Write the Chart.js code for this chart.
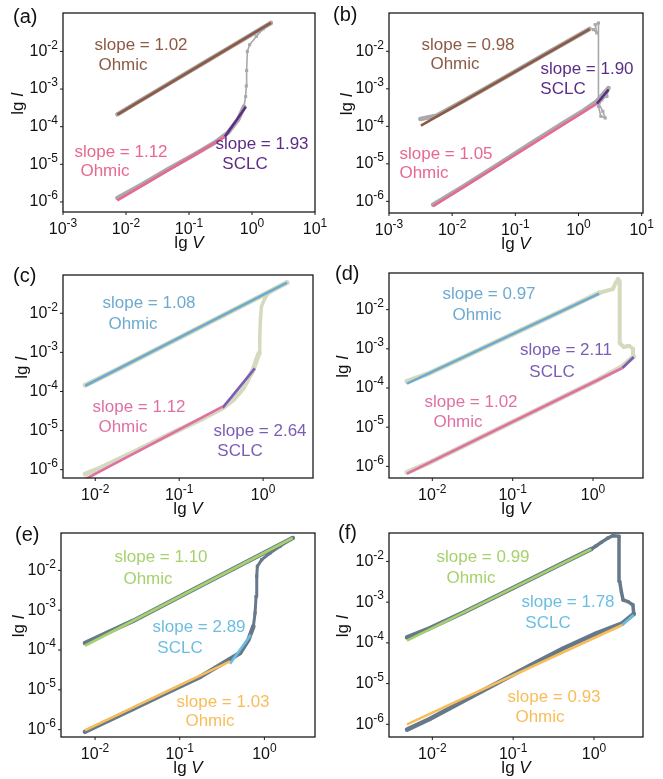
<!DOCTYPE html>
<html>
<head>
<meta charset="utf-8">
<script src="https://cdn.jsdelivr.net/npm/chart.js@4.4.1/dist/chart.umd.min.js"></script>
<style>
  body { margin: 0; background: #fff; }
  #fig { position: relative; width: 663px; height: 779px; }
  #fig canvas { position: absolute; }
</style>
</head>
<body>
<div id="fig"></div>
<script>
// I-V data, [V, I] pairs
// (a)
const aLow  = [[0.0073,1.28e-6],[0.0171,2.78e-6],[0.0457,7.3e-6],[0.122,1.83e-5],[0.254,3.74e-5],[0.414,6.9e-5],[0.598,1.51e-4],[0.745,3.41e-4]];
const aJump = [[0.745,3.41e-4],[0.792,6.3e-4],[0.812,1.21e-3],[0.822,3.11e-3],[0.843,0.010],[0.918,0.0151],[1.17,0.0251],[1.50,0.0394],[1.99,0.057]];
const aHigh = [[1.99,0.057],[0.528,0.0152],[0.155,4.5e-3],[0.0457,1.33e-3],[0.0171,5.0e-4],[0.0073,2.13e-4]];
const aFitHigh = [[0.0073,2.1e-4],[2.0,0.057]];
const aFitLow  = [[0.0073,1.1e-6],[0.37,5.4e-5]];
const aFitSclc = [[0.37,5.4e-5],[0.80,3.4e-4]];
// (b)
const bLow  = [[0.0050,8.2e-7],[0.0150,2.5e-6],[0.0506,9.1e-6],[0.171,3.4e-5],[0.578,1.23e-4],[1.20,2.62e-4],[1.95,4.64e-4],[2.99,1.05e-3]];
const bJump = [[2.99,1.05e-3],[2.82,6.3e-4],[2.34,5.1e-4],[2.07,3.41e-4],[2.26,1.85e-4],[2.65,1.67e-4],[2.43,2.51e-4],[2.07,4.19e-4],[2.07,0.057],[1.84,0.0514],[1.95,0.0308],[1.73,0.0379]];
const bHigh = [[1.50,0.0394],[0.314,8.85e-3],[0.0646,1.92e-3],[0.0150,4.74e-4],[0.00564,1.92e-4],[0.00314,1.57e-4]];
const bFitHigh = [[0.0032,1.05e-4],[1.50,0.039]];
const bFitLow  = [[0.0050,7.4e-7],[1.95,4.0e-4]];
const bFitSclc = [[1.95,4.0e-4],[3.0,9.5e-4]];
// (c)
const cLow  = [[0.0076,7.7e-7],[0.0115,1.1e-6],[0.0285,2.8e-6],[0.071,7.4e-6],[0.177,1.9e-5],[0.329,3.75e-5],[0.44,6.1e-5],[0.578,1.2e-4],[0.76,3.6e-4],[0.85,7.1e-4],[0.895,9.5e-4]];
const cJump = [[0.895,9.5e-4],[0.912,2.5e-3],[0.929,6.8e-3],[0.955,0.0148],[1.047,0.024],[1.146,0.032],[1.44,0.043],[1.93,0.061]];
const cHigh = [[1.93,0.061],[0.695,0.0197],[0.177,4.4e-3],[0.045,9.8e-4],[0.0181,3.6e-4],[0.0076,1.45e-4]];
const cFitHigh = [[0.0076,1.4e-4],[1.93,0.061]];
const cFitLow  = [[0.0076,5.7e-7],[0.329,4.1e-5]];
const cFitSclc = [[0.329,3.8e-5],[0.796,3.9e-4]];
// (d)
const dLow  = [[0.00484,7.0e-7],[0.00927,1.25e-6],[0.0241,3.27e-6],[0.0627,8.55e-6],[0.163,2.24e-5],[0.424,5.86e-5],[1.10,1.53e-4],[2.32,3.57e-4],[3.21,6.4e-4]];
const dJump = [[3.21,6.4e-4],[3.15,9.9e-4],[2.81,1.2e-3],[2.41,1.11e-3],[2.15,1.41e-3],[2.15,0.0528],[2.05,0.0607],[1.91,0.048],[1.77,0.0337],[1.54,0.0312],[1.19,0.0267]];
const dHigh = [[1.19,0.0267],[0.424,9.5e-3],[0.163,3.8e-3],[0.0627,1.51e-3],[0.0241,6.0e-4],[0.00927,2.41e-4],[0.00484,1.48e-4]];
const dFitHigh = [[0.00484,1.29e-4],[1.19,0.0256]];
const dFitLow  = [[0.00484,6.5e-7],[2.32,3.24e-4]];
const dFitSclc = [[2.32,3.24e-4],[3.21,6.2e-4]];
// (e)
const eLow  = [[0.0076,8.9e-7],[0.0115,1.35e-6],[0.0284,3.37e-6],[0.0702,8.43e-6],[0.174,2.11e-5],[0.393,5.94e-5],[0.516,8.4e-5],[0.648,1.8e-4],[0.741,3.92e-4]];
const eJump = [[0.741,3.92e-4],[0.776,8.5e-4],[0.797,2.2e-3],[0.812,7.1e-3],[0.826,0.0126],[0.931,0.0185],[1.167,0.0272],[1.53,0.0401],[2.16,0.0648]];
const eHigh = [[2.16,0.0648],[0.430,0.0109],[0.110,2.44e-3],[0.0284,5.46e-4],[0.0076,1.5e-4]];
const eFitHigh = [[0.0076,1.28e-4],[2.16,0.0648]];
const eFitLow  = [[0.0076,9.6e-7],[0.393,5.19e-5]];
const eFitSclc = [[0.393,4.54e-5],[0.690,2.43e-4]];
// (f)
const fLow  = [[0.00486,7.4e-7],[0.00927,1.35e-6],[0.0239,3.69e-6],[0.0619,1.0e-5],[0.160,2.74e-5],[0.414,7.3e-5],[1.07,1.71e-4],[2.24,3.02e-4],[3.10,5.13e-4]];
const fJump = [[3.10,5.13e-4],[3.03,8.55e-4],[2.63,1.03e-3],[2.29,1.13e-3],[2.18,1.82e-3],[2.08,3.21e-3],[2.04,0.0413],[1.72,0.0429],[1.49,0.0376],[1.23,0.0294],[1.07,0.0243],[0.927,0.0201]];
const fHigh = [[0.927,0.0201],[0.414,9.1e-3],[0.0995,2.23e-3],[0.0239,5.47e-4],[0.00927,2.28e-4],[0.00486,1.37e-4]];
const fFitHigh = [[0.00486,1.13e-4],[0.927,0.0201]];
const fFitLow  = [[0.00486,1.0e-6],[2.24,2.75e-4]];
const fFitSclc = [[2.24,2.75e-4],[3.10,4.85e-4]];

// tick values
const xTicksWide = [1e-3, 1e-2, 1e-1, 1, 10];
const xTicksNarrow = [1e-2, 1e-1, 1];
const yTicks = [1e-6, 1e-5, 1e-4, 1e-3, 1e-2];

const FONT = '"Liberation Sans", Arial, Helvetica, sans-serif';

const greyPal  = { data: '#a9a9a9', high: '#8c5a44', low: '#e8688f', sclc: '#5c2d86' };
const sagePal  = { data: '#d4dabd', high: '#6eaad0', low: '#e070a4', sclc: '#7b5db4' };
const slatePal = { data: '#66798b', high: '#a7d16c', low: '#f8bd58', sclc: '#6cbde1' };

const panels = [
  { tag: '(a)', left: 0, top: 0, w: 330, h: 260, area: [63, 13, 315, 212], xr: [1e-3, 10], yr: [5.41e-7, 0.105],
    xTicks: xTicksWide, pal: greyPal, low: aLow, jump: aJump, high: aHigh, fits: [aFitHigh, aFitLow, aFitSclc],
    dataW: 4.5, jumpW: 1.6, tagX: 13, tagY: 17, yTitleX: 18,
    notes: [['slope = 1.02', 141, 45, 'high'], ['Ohmic', 123, 65, 'high'], ['slope = 1.12', 121, 152, 'low'], ['Ohmic', 105, 171, 'low'], ['slope = 1.93', 262, 144, 'sclc'], ['SCLC', 245, 164, 'sclc']] },
  { tag: '(b)', left: 330, top: 0, w: 333, h: 260, area: [59, 13, 313, 213], xr: [1e-3, 10.5], yr: [4.89e-7, 0.105],
    xTicks: xTicksWide, pal: greyPal, low: bLow, jump: bJump, high: bHigh, fits: [bFitHigh, bFitLow, bFitSclc],
    dataW: 4.5, jumpW: 1.6, tagX: 3, tagY: 15, yTitleX: 17,
    notes: [['slope = 0.98', 138, 45, 'high'], ['Ohmic', 125, 64, 'high'], ['slope = 1.90', 257, 69, 'sclc'], ['SCLC', 233, 89, 'sclc'], ['slope = 1.05', 116, 154, 'low'], ['Ohmic', 94, 173, 'low']] },
  { tag: '(c)', left: 0, top: 260, w: 330, h: 260, area: [63, 15, 313, 218], xr: [4.13e-3, 3.93], yr: [6.12e-7, 0.0953],
    xTicks: xTicksNarrow, pal: sagePal, low: cLow, jump: cJump, high: cHigh, fits: [cFitHigh, cFitLow, cFitSclc],
    dataW: 5, jumpW: 3.5, tagX: 13, tagY: 16, yTitleX: 22,
    notes: [['slope = 1.08', 149, 43, 'high'], ['Ohmic', 133, 64, 'high'], ['slope = 1.12', 139, 147, 'low'], ['Ohmic', 123, 167, 'low'], ['slope = 2.64', 260, 171, 'sclc'], ['SCLC', 240, 191, 'sclc']] },
  { tag: '(d)', left: 330, top: 260, w: 333, h: 260, area: [59, 13, 313, 218], xr: [2.89e-3, 4.19], yr: [5.04e-7, 0.0863],
    xTicks: xTicksNarrow, pal: sagePal, low: dLow, jump: dJump, high: dHigh, fits: [dFitHigh, dFitLow, dFitSclc],
    dataW: 5, jumpW: 4, tagX: 5, tagY: 14, yTitleX: 13,
    notes: [['slope = 0.97', 159, 34, 'high'], ['Ohmic', 147, 55, 'high'], ['slope = 2.11', 236, 90, 'sclc'], ['SCLC', 222, 112, 'sclc'], ['slope = 1.02', 141, 142, 'low'], ['Ohmic', 128, 162, 'low']] },
  { tag: '(e)', left: 0, top: 520, w: 330, h: 259, area: [61, 13, 315, 217], xr: [3.96e-3, 3.96], yr: [6.55e-7, 0.0865],
    xTicks: xTicksNarrow, pal: slatePal, low: eLow, jump: eJump, high: eHigh, fits: [eFitHigh, eFitLow, eFitSclc],
    dataW: 4.5, jumpW: 3, tagX: 15, tagY: 15, yTitleX: 19,
    notes: [['slope = 1.10', 161, 37, 'high'], ['Ohmic', 148, 59, 'high'], ['slope = 2.89', 199, 107, 'sclc'], ['SCLC', 180, 128, 'sclc'], ['slope = 1.03', 223, 182, 'low'], ['Ohmic', 210, 201, 'low']] },
  { tag: '(f)', left: 330, top: 520, w: 333, h: 259, area: [59, 13, 313, 217], xr: [2.91e-3, 4.04], yr: [4.88e-7, 0.0499],
    xTicks: xTicksNarrow, pal: slatePal, low: fLow, jump: fJump, high: fHigh, fits: [fFitHigh, fFitLow, fFitSclc],
    dataW: 4.5, jumpW: 3.5, tagX: 8, tagY: 13, yTitleX: 13,
    notes: [['slope = 0.99', 153, 37, 'high'], ['Ohmic', 141, 58, 'high'], ['slope = 1.78', 238, 82, 'sclc'], ['SCLC', 218, 103, 'sclc'], ['slope = 0.93', 224, 177, 'low'], ['Ohmic', 210, 197, 'low']] }
];

function pts(arr) { return arr.map(p => ({ x: p[0], y: p[1] })); }

// "10" with a raised exponent
function powLabel(ctx, v, x, y, align) {
  const e = Math.round(Math.log10(v));
  const sup = e < 0 ? '-' + (-e) : String(e);
  ctx.font = '16px ' + FONT;
  const wb = ctx.measureText('10').width;
  ctx.font = '12px ' + FONT;
  const ws = ctx.measureText(sup).width;
  let x0 = align === 'right' ? x - wb - ws : x - (wb + ws) / 2;
  ctx.textAlign = 'left';
  ctx.textBaseline = 'middle';
  ctx.font = '16px ' + FONT;
  ctx.fillText('10', x0, y);
  ctx.font = '12px ' + FONT;
  ctx.fillText(sup, x0 + wb, y - 6);
}

// "lg " upright + italic symbol
function lgTitle(ctx, sym, cx, cy) {
  ctx.font = '17px ' + FONT;
  const w1 = ctx.measureText('lg ').width;
  ctx.font = 'italic 17px ' + FONT;
  const w2 = ctx.measureText(sym).width;
  const x0 = cx - (w1 + w2) / 2;
  ctx.textAlign = 'left';
  ctx.textBaseline = 'middle';
  ctx.font = '17px ' + FONT;
  ctx.fillText('lg ', x0, cy);
  ctx.font = 'italic 17px ' + FONT;
  ctx.fillText(sym, x0 + w1, cy);
}

const decor = {
  id: 'decor',
  afterDatasetsDraw(chart, args, o) {
    const { ctx, chartArea: a, scales: { x, y } } = chart;
    const p = o.panel;
    ctx.save();
    ctx.strokeStyle = '#1b1b1b';
    ctx.lineWidth = 1.3;
    ctx.strokeRect(a.left, a.top, a.right - a.left, a.bottom - a.top);
    ctx.fillStyle = '#111';
    ctx.lineWidth = 1;
    p.xTicks.forEach(v => {
      const px = x.getPixelForValue(v);
      ctx.beginPath(); ctx.moveTo(px, a.bottom); ctx.lineTo(px, a.bottom + 3); ctx.stroke();
      powLabel(ctx, v, px, a.bottom + 18, 'center');
    });
    yTicks.forEach(v => {
      const py = y.getPixelForValue(v);
      ctx.beginPath(); ctx.moveTo(a.left, py); ctx.lineTo(a.left - 3, py); ctx.stroke();
      powLabel(ctx, v, a.left - 5, py, 'right');
    });
    lgTitle(ctx, 'V', (a.left + a.right) / 2, a.bottom + 31);
    ctx.save();
    ctx.translate(p.yTitleX, (a.top + a.bottom) / 2 - 9);
    ctx.rotate(-Math.PI / 2);
    lgTitle(ctx, 'I', 0, 0);
    ctx.restore();
    ctx.font = '20px ' + FONT;
    ctx.textAlign = 'left';
    ctx.textBaseline = 'middle';
    ctx.fillText(p.tag, p.tagX, p.tagY);
    ctx.font = '17px ' + FONT;
    ctx.textAlign = 'center';
    p.notes.forEach(n => {
      ctx.fillStyle = p.pal[n[3]];
      ctx.fillText(n[0], n[1], n[2]);
    });
    ctx.restore();
  }
};

const fig = document.getElementById('fig');
panels.forEach(p => {
  const cv = document.createElement('canvas');
  cv.width = p.w; cv.height = p.h;
  cv.style.left = p.left + 'px'; cv.style.top = p.top + 'px';
  cv.style.width = p.w + 'px'; cv.style.height = p.h + 'px';
  fig.appendChild(cv);

  const dataSet = (arr, w) => ({
    data: pts(arr), showLine: true, borderColor: p.pal.data, backgroundColor: p.pal.data,
    borderWidth: w, borderJoinStyle: 'round', borderCapStyle: 'round',
    pointStyle: 'rect', pointRadius: 2.2, pointBorderWidth: 0, order: 2
  });
  const fitSet = (arr, col) => ({
    data: pts(arr), showLine: true, borderColor: col, backgroundColor: col,
    borderWidth: 2.6, pointRadius: 0, order: 0
  });

  new Chart(cv, {
    type: 'scatter',
    data: {
      datasets: [
        fitSet(p.fits[0], p.pal.high),
        fitSet(p.fits[1], p.pal.low),
        fitSet(p.fits[2], p.pal.sclc),
        dataSet(p.low, p.dataW),
        dataSet(p.jump, p.jumpW),
        dataSet(p.high, p.dataW)
      ]
    },
    options: {
      responsive: false,
      animation: false,
      devicePixelRatio: 1,
      events: [],
      layout: { padding: { left: p.area[0], top: p.area[1], right: p.w - p.area[2], bottom: p.h - p.area[3] } },
      plugins: { legend: { display: false }, tooltip: { enabled: false }, decor: { panel: p } },
      scales: {
        x: { type: 'logarithmic', display: false, min: p.xr[0], max: p.xr[1] },
        y: { type: 'logarithmic', display: false, min: p.yr[0], max: p.yr[1] }
      }
    },
    plugins: [decor]
  });
});
</script>
</body>
</html>
